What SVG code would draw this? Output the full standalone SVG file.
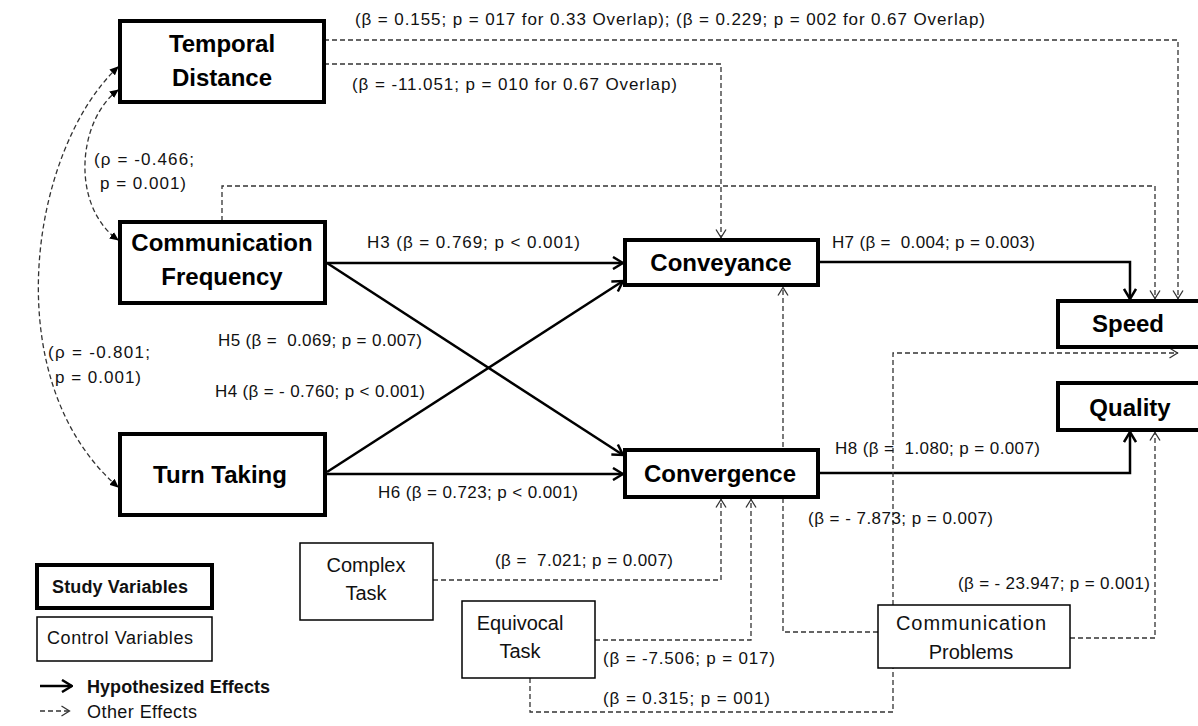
<svg xmlns="http://www.w3.org/2000/svg" width="1198" height="726" viewBox="0 0 1198 726">
<style>
  .study { fill: #fff; stroke: #000; stroke-width: 4; }
  .ctrl { fill: #fff; stroke: #000; stroke-width: 1.5; }
  .nt { font-family: "Liberation Sans", Arial, sans-serif; font-weight: bold; font-size: 24px; fill: #000; text-anchor: middle; }
  .ct { font-family: "Liberation Sans", Arial, sans-serif; font-size: 20px; fill: #111; text-anchor: middle; }
  .lbl { font-family: "Liberation Sans", Arial, sans-serif; font-size: 17px; fill: #111; white-space: pre; }
  .lg { font-family: "Liberation Sans", Arial, sans-serif; font-size: 18px; fill: #111; }
  .hyp { fill: none; stroke: #000; stroke-width: 2.5; marker-end: url(#ah); }
  .oth { fill: none; stroke: #333; stroke-width: 1.3; stroke-dasharray: 5 3; marker-end: url(#dh); }
  .cor { fill: none; stroke: #333; stroke-width: 1.3; stroke-dasharray: 5 3; marker-start: url(#ch); marker-end: url(#ch); }
</style>
<defs>
  <marker id="ah" viewBox="0 0 12 14" refX="11" refY="7" markerWidth="12" markerHeight="14" markerUnits="userSpaceOnUse" orient="auto">
    <path d="M1,1 L11,7 L1,13" fill="none" stroke="#000" stroke-width="2.5"/>
  </marker>
  <marker id="dh" viewBox="0 0 10 12" refX="9.5" refY="6" markerWidth="10" markerHeight="12" markerUnits="userSpaceOnUse" orient="auto">
    <path d="M1,1 L9,6 L1,11" fill="none" stroke="#333" stroke-width="1.3"/>
  </marker>
  <marker id="ch" viewBox="0 0 9 8" refX="8" refY="4" markerWidth="9" markerHeight="8" markerUnits="userSpaceOnUse" orient="auto-start-reverse">
    <path d="M0,0 L9,4 L0,8 z" fill="#000"/>
  </marker>
</defs>
<rect width="1198" height="726" fill="#fff"/>

<g id="connectors">
  <!-- hypothesized -->
  <path class="hyp" d="M325,263 H623"/>
  <path class="hyp" d="M327,263 L623,455"/>
  <path class="hyp" d="M327,472 L623,281"/>
  <path class="hyp" d="M325,474 H623"/>
  <path class="hyp" d="M818,262 H1130 V299"/>
  <path class="hyp" d="M818,473 H1130 V432"/>
  <!-- other effects -->
  <path class="oth" d="M324,40 H1178 V299"/>
  <path class="oth" d="M324,64 H721 V238"/>
  <path class="oth" d="M222,221 V186 H1155 V299"/>
  <path class="oth" d="M433,580 H721 V499"/>
  <path class="oth" d="M595,640 H751 V499"/>
  <path class="oth" d="M530,678 V712 H893 V353 H1178"/>
  <path class="oth" d="M878,632 H783 V287"/>
  <path class="oth" d="M1070,638 H1155 V432"/>
  <!-- correlations -->
  <path class="cor" d="M118,90 C78,120 70,205 118,240"/>
  <path class="cor" d="M118,67 C30,150 -5,380 118,487"/>
</g>

<g id="labels">
  <text class="lbl" x="355" y="25" textLength="630">(β = 0.155; p = 017 for 0.33 Overlap); (β = 0.229; p = 002 for 0.67 Overlap)</text>
  <text class="lbl" x="352" y="90" textLength="325">(β = -11.051; p = 010 for 0.67 Overlap)</text>
  <text class="lbl" x="94" y="165" textLength="100">(ρ = -0.466;</text>
  <text class="lbl" x="100" y="189" textLength="86">p = 0.001)</text>
  <text class="lbl" x="48" y="358" textLength="102">(ρ = -0.801;</text>
  <text class="lbl" x="55" y="383" textLength="86">p = 0.001)</text>
  <text class="lbl" x="367" y="248" textLength="213">H3 (β = 0.769; p &lt; 0.001)</text>
  <text class="lbl" x="832" y="248" textLength="203">H7 (β =  0.004; p = 0.003)</text>
  <text class="lbl" x="218" y="346" textLength="204">H5 (β =  0.069; p = 0.007)</text>
  <text class="lbl" x="215" y="397" textLength="210">H4 (β = - 0.760; p &lt; 0.001)</text>
  <text class="lbl" x="378" y="498" textLength="200">H6 (β = 0.723; p &lt; 0.001)</text>
  <text class="lbl" x="835" y="454" textLength="205">H8 (β =  1.080; p = 0.007)</text>
  <text class="lbl" x="808" y="524" textLength="185">(β = - 7.873; p = 0.007)</text>
  <text class="lbl" x="495" y="566" textLength="178">(β =  7.021; p = 0.007)</text>
  <text class="lbl" x="958" y="589" textLength="192">(β = - 23.947; p = 0.001)</text>
  <text class="lbl" x="603" y="664" textLength="172">(β = -7.506; p = 017)</text>
  <text class="lbl" x="603" y="704" textLength="167">(β = 0.315; p = 001)</text>
</g>

<g id="temporal-distance">
  <rect class="study" x="120" y="21" width="204" height="81"/>
  <text class="nt" x="222" y="52">Temporal</text>
  <text class="nt" x="222" y="86">Distance</text>
</g>
<g id="communication-frequency">
  <rect class="study" x="120" y="222" width="205" height="81"/>
  <text class="nt" x="222" y="251">Communication</text>
  <text class="nt" x="222" y="285">Frequency</text>
</g>
<g id="turn-taking">
  <rect class="study" x="120" y="434" width="205" height="81"/>
  <text class="nt" x="220" y="483">Turn Taking</text>
</g>
<g id="conveyance">
  <rect class="study" x="625" y="240" width="193" height="45"/>
  <text class="nt" x="721" y="271">Conveyance</text>
</g>
<g id="convergence">
  <rect class="study" x="625" y="450" width="193" height="47"/>
  <text class="nt" x="720" y="482">Convergence</text>
</g>
<g id="speed">
  <rect class="study" x="1058" y="301" width="150" height="46"/>
  <text class="nt" x="1128" y="332">Speed</text>
</g>
<g id="quality">
  <rect class="study" x="1058" y="383" width="150" height="47"/>
  <text class="nt" x="1130" y="416">Quality</text>
</g>
<g id="complex-task">
  <rect class="ctrl" x="300" y="543" width="133" height="77"/>
  <text class="ct" x="366" y="572">Complex</text>
  <text class="ct" x="366" y="600">Task</text>
</g>
<g id="equivocal-task">
  <rect class="ctrl" x="462" y="601" width="133" height="77"/>
  <text class="ct" x="520" y="630">Equivocal</text>
  <text class="ct" x="520" y="658">Task</text>
</g>
<g id="communication-problems">
  <rect class="ctrl" x="878" y="605" width="192" height="63"/>
  <text class="ct" x="971" y="630" textLength="150">Communication</text>
  <text class="ct" x="971" y="659">Problems</text>
</g>

<g id="legend">
  <rect class="study" x="37" y="565" width="175" height="43"/>
  <text class="lg" x="52" y="593" font-weight="bold" textLength="136">Study Variables</text>
  <rect class="ctrl" x="37" y="617" width="175" height="44"/>
  <text class="lg" x="47" y="644" textLength="146">Control Variables</text>
  <path class="hyp" d="M40,686 H72"/>
  <text class="lg" x="87" y="693" font-weight="bold" textLength="183">Hypothesized Effects</text>
  <path class="oth" d="M40,711 H70"/>
  <text class="lg" x="87" y="718" textLength="110">Other Effects</text>
</g>
</svg>
